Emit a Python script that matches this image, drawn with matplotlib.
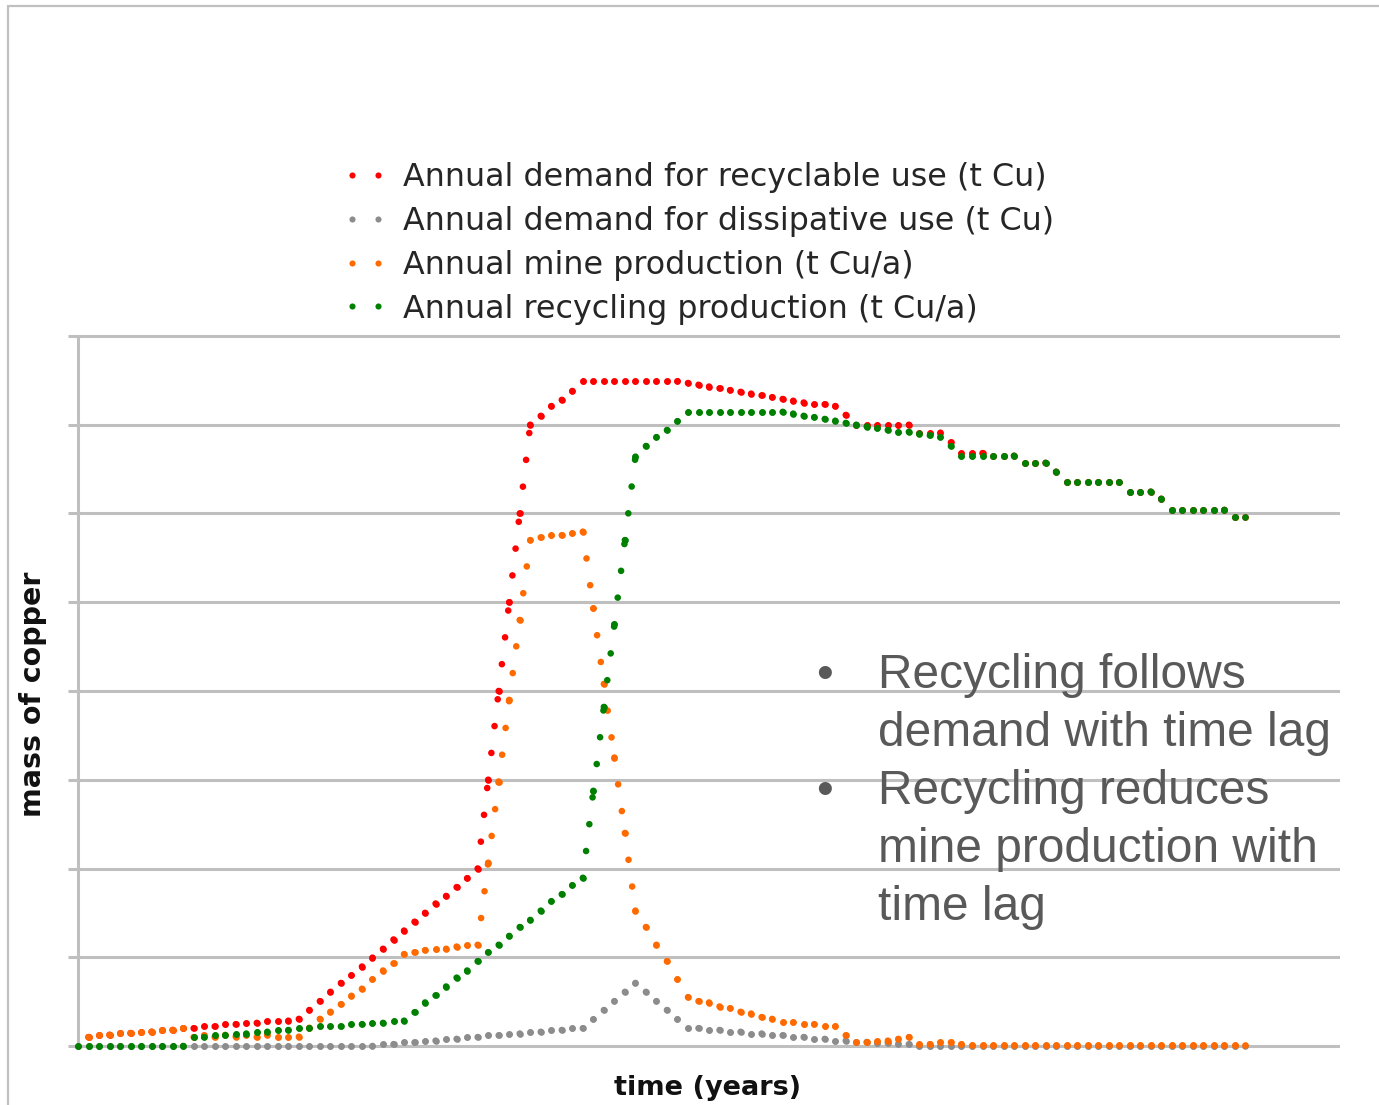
import numpy as np
import matplotlib.pyplot as plt
from matplotlib.collections import LineCollection
from matplotlib.lines import Line2D
from matplotlib.patches import Rectangle

# one value per year, in gridline units (axis has no tick labels)
years = np.arange(112)

# red series starts in year 1
recyclable_demand = [
    0.10, 0.125, 0.125, 0.145, 0.145, 0.16, 0.16, 0.18, 0.18, 0.20,
    0.20, 0.22, 0.22, 0.245, 0.245, 0.26, 0.26, 0.285, 0.285, 0.285, 0.305,
    0.405, 0.505, 0.61, 0.71, 0.795, 0.895, 0.995, 1.095, 1.20, 1.30,
    1.40, 1.50, 1.605, 1.69, 1.79, 1.89,
    2.0, 3.0, 4.0, 5.0, 6.0, 7.0,
    7.10, 7.21, 7.28, 7.38,
    7.49, 7.49, 7.49, 7.49, 7.49, 7.49, 7.49, 7.49, 7.49, 7.49,
    7.47, 7.45, 7.43, 7.41, 7.39, 7.37, 7.35, 7.33, 7.31, 7.29,
    7.27, 7.25, 7.23, 7.23, 7.21, 7.11,
    7.0, 7.0, 7.0, 7.0, 7.0, 7.0,
    6.91, 6.91, 6.91, 6.80, 6.68, 6.68, 6.68,
    6.65, 6.65, 6.65, 6.57, 6.57, 6.57, 6.47,
    6.35, 6.35, 6.35, 6.35, 6.35, 6.35, 6.245, 6.245, 6.245, 6.165,
    6.04, 6.04, 6.04, 6.04, 6.04, 6.04, 5.96, 5.96,
]

dissipative_demand = [0.0] * 29 + [
    0.02, 0.02, 0.04, 0.04, 0.06, 0.06, 0.08, 0.08, 0.10, 0.10,
    0.12, 0.12, 0.14, 0.14, 0.16, 0.16, 0.18, 0.18, 0.20, 0.20,
    0.30, 0.405, 0.505, 0.61, 0.71, 0.61, 0.505, 0.405, 0.30,
    0.20, 0.20, 0.18, 0.18, 0.16, 0.16, 0.14, 0.14, 0.12, 0.12,
    0.10, 0.10, 0.08, 0.08, 0.06, 0.06, 0.045, 0.045, 0.035, 0.035,
    0.025, 0.02,
] + [0.0] * 32

# orange series starts in year 1
mine_production = [
    0.10, 0.125, 0.125, 0.145, 0.145, 0.16, 0.16, 0.18, 0.18, 0.20,
    0.10, 0.12, 0.10, 0.125, 0.105, 0.12, 0.10, 0.125, 0.105, 0.105, 0.105, 0.205,
    0.305, 0.385, 0.47, 0.565, 0.645, 0.75, 0.85, 0.93, 1.035, 1.055,
    1.08, 1.095, 1.095, 1.12, 1.14, 1.14,
    2.065, 2.98, 3.90, 4.80, 5.70,
    5.73, 5.755, 5.755, 5.775, 5.795,
    4.93, 4.08, 3.25, 2.40, 1.525,
    1.34, 1.14, 0.955, 0.75, 0.55, 0.505, 0.49, 0.445, 0.425, 0.385,
    0.365, 0.325, 0.305, 0.265, 0.265, 0.245, 0.245, 0.22, 0.22, 0.12,
    0.04, 0.04, 0.06, 0.06, 0.08, 0.10, 0.02, 0.02, 0.04, 0.04, 0.02,
] + [0.01] * 27

recycling_production = [0.0] * 11 + [
    0.10, 0.10, 0.12, 0.12, 0.14, 0.14, 0.16, 0.16, 0.18, 0.18,
    0.20, 0.20, 0.22, 0.22, 0.22, 0.245, 0.245, 0.26, 0.26, 0.285, 0.285,
    0.38, 0.49, 0.57, 0.67, 0.77, 0.85, 0.955, 1.055, 1.14, 1.24,
    1.34, 1.42, 1.525, 1.63, 1.71, 1.81, 1.895,
    2.875, 3.82, 4.75, 5.70, 6.64,
    6.76, 6.86, 6.94, 7.04, 7.145,
    7.145, 7.145, 7.145, 7.145, 7.145, 7.145, 7.145, 7.145, 7.145,
    7.125, 7.10, 7.085, 7.065, 7.045, 7.02, 7.00, 6.98, 6.96, 6.94,
    6.92, 6.92, 6.90, 6.88, 6.86, 6.76,
    6.65, 6.65, 6.65, 6.65, 6.65, 6.65, 6.57, 6.57, 6.57, 6.47,
    6.35, 6.35, 6.35, 6.35, 6.35, 6.35, 6.245, 6.245, 6.245, 6.165,
    6.04, 6.04, 6.04, 6.04, 6.04, 6.04, 5.96, 5.96,
]

labels = ['Annual demand for recyclable use (t Cu)',
          'Annual demand for dissipative use (t Cu)',
          'Annual mine production (t Cu/a)',
          'Annual recycling production (t Cu/a)']
colors = ['#ff0000', '#8c8c8c', '#ff6a00', '#008000']
grid_col = '#bfbfbf'


def dotted(ax, x, y, color, z):
    # excel-style round dots: dash pattern restarts at every data point
    pts = np.column_stack([x, y])
    segs = np.stack([pts[:-1], pts[1:]], axis=1)
    lc = LineCollection(segs, colors=color, linewidths=4.8,
                        linestyles=[(0, (0.001, 4.05))], capstyle='round',
                        zorder=z, clip_on=False)
    ax.add_collection(lc)
    ax.plot(x, y, 'o', ms=4.8, mew=0, color=color, zorder=z, clip_on=False)


fig = plt.figure(figsize=(13.79, 11.05), dpi=100)
ax = fig.add_axes([78 / 1379, 59 / 1105, 1260 / 1379, 710 / 1105])

dotted(ax, years[1:], recyclable_demand, colors[0], 3)
dotted(ax, years, dissipative_demand, colors[1], 4)
dotted(ax, years[1:], mine_production, colors[2], 5)
dotted(ax, years, recycling_production, colors[3], 6)

ax.set_xlim(0, 119.8)
ax.set_ylim(0, 8)
ax.set_yticks(np.arange(9))
ax.set_xticks([])
ax.tick_params(axis='y', length=7.5, width=2.2, color=grid_col, labelleft=False)
ax.grid(axis='y', color=grid_col, lw=2.2)
for gl in ax.get_ygridlines():
    gl.set_clip_on(False)
ax.set_axisbelow(True)
for s in ['top', 'right', 'bottom']:
    ax.spines[s].set_visible(False)
ax.spines['left'].set_color(grid_col)
ax.spines['left'].set_linewidth(2.2)

fig.text(33.5 / 1379, 1 - 694 / 1105, 'mass of copper', rotation=90,
         ha='center', va='center', fontsize=20.5, fontweight='bold', color='#111111')
fig.text(708 / 1379, 1 - 1088 / 1105, 'time (years)',
         ha='center', va='center', fontsize=19.5, fontweight='bold', color='#111111')

handles = [Line2D([], [], ls='none', marker='o', ms=4.4, mew=0, color=c) for c in colors]
fig.legend(handles, labels, loc='center left',
           bbox_to_anchor=(326.5 / 1379, 1 - 243.5 / 1105),
           frameon=False, numpoints=2, handlelength=1.42, handletextpad=0.48,
           borderpad=0, labelspacing=0.4, fontsize=22.9, labelcolor='#262626')

note = [('•', 'Recycling follows', 688), (None, 'demand with time lag', 746),
        ('•', 'Recycling reduces', 804), (None, 'mine production with', 862),
        (None, 'time lag', 920)]
for bullet, line, yb in note:
    if bullet:
        fig.text(825 / 1379, 1 - yb / 1105, bullet, ha='center', va='baseline',
                 fontsize=34.5, family='Liberation Sans', color='#595959')
    fig.text(878 / 1379, 1 - yb / 1105, line, ha='left', va='baseline',
             fontsize=34.5, family='Liberation Sans', color='#595959')

fig.patches.append(Rectangle((8 / 1379, -0.1), 1.2, 1.1 - 6 / 1105,
                             transform=fig.transFigure, fill=False,
                             ec='#c0c0c0', lw=1.6))

fig.savefig('out.png', dpi=100)
